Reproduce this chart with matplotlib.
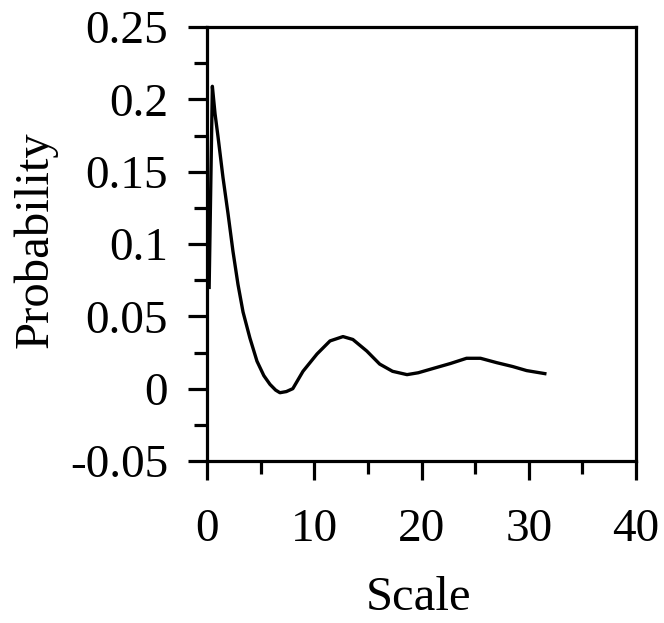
import numpy as np
import matplotlib.pyplot as plt
from matplotlib.ticker import MultipleLocator

# values
scale = [0.2, 0.35, 0.5, 0.75, 1.03, 1.49, 1.96, 2.42, 2.89, 3.36, 4.0,
         4.66, 5.3, 5.87, 6.4, 6.8, 7.4, 8.0, 8.95, 10.26, 11.47, 12.68,
         13.6, 14.9, 16.1, 17.3, 18.65, 19.7, 21.1, 22.7, 24.2, 25.5, 27.0,
         28.5, 29.8, 31.5]
probability = [0.07, 0.14, 0.209, 0.19, 0.174, 0.146, 0.121, 0.095, 0.072,
               0.053, 0.035, 0.019, 0.009, 0.003, -0.001, -0.0028, -0.002,
               0.0, 0.012, 0.024, 0.033, 0.036, 0.034, 0.026, 0.017, 0.012,
               0.0097, 0.011, 0.014, 0.0174, 0.021, 0.021, 0.018, 0.0153,
               0.0125, 0.0104]

xticks = [0, 10, 20, 30, 40]
yticks = [-0.05, 0, 0.05, 0.1, 0.15, 0.2, 0.25]
yticklabels = ["-0.05", "0", "0.05", "0.1", "0.15", "0.2", "0.25"]

plt.rcParams['font.family'] = ['Liberation Serif', 'DejaVu Serif']

fig = plt.figure(figsize=(6.64, 6.23), dpi=100)
ax = fig.add_axes([207 / 664, 1 - 461 / 623, 429 / 664, 434 / 623])

ax.plot(scale, probability, color="black", lw=2.4,
        solid_joinstyle="round")

ax.set_xlim(0, 40)
ax.set_ylim(-0.05, 0.25)
ax.set_xticks(xticks)
ax.set_yticks(yticks)
ax.set_yticklabels(yticklabels)
ax.xaxis.set_minor_locator(MultipleLocator(5))
ax.yaxis.set_minor_locator(MultipleLocator(0.025))

for s in ax.spines.values():
    s.set_linewidth(2.3)

ax.tick_params(which="major", direction="out", length=14, width=2.3,
               labelsize=34, pad=14)
ax.tick_params(which="minor", direction="out", length=9.5, width=2.3)
ax.tick_params(axis="x", which="major", pad=20)

ax.set_xlabel("Scale", fontsize=35)
ax.xaxis.set_label_coords(0.492, -0.265)
fig.text(35 / 664, 1 - 240 / 623, "Probability", fontsize=35,
         rotation=90, ha="center", va="center")

fig.savefig("out.png", dpi=100)
